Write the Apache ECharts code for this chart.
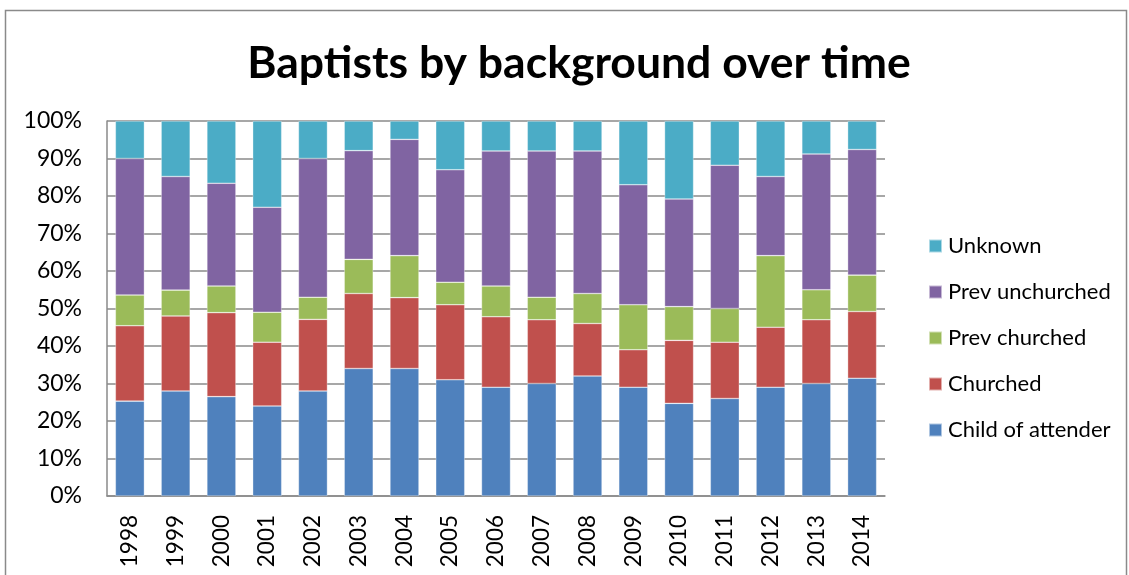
<!DOCTYPE html>
<html>
<head>
<meta charset="utf-8">
<script src="https://cdn.jsdelivr.net/npm/echarts@6/dist/echarts.min.js"></script>
<style>
html,body{margin:0;padding:0;background:#fff;}
#chart{width:1129px;height:575px;}
</style>
</head>
<body>
<div id="chart"></div>
<script>
const years = ['1998','1999','2000','2001','2002','2003','2004','2005','2006','2007','2008','2009','2010','2011','2012','2013','2014'];
const childOfAttender = [25.3, 28.0, 26.5, 24.0, 28.0, 34.0, 34.0, 31.0, 29.0, 30.0, 32.0, 29.0, 24.7, 26.0, 29.0, 30.0, 31.4];
const churched        = [20.1, 20.0, 22.4, 17.0, 19.1, 20.0, 18.9, 20.0, 18.8, 17.0, 14.0, 10.0, 16.8, 15.0, 16.0, 17.0, 17.8];
const prevChurched    = [8.2, 6.9, 7.1, 8.0, 5.9, 9.1, 11.2, 6.0, 8.2, 6.0, 8.0, 12.0, 9.0, 9.0, 19.1, 8.0, 9.7];
const prevUnchurched  = [36.4, 30.3, 27.4, 28.0, 37.0, 29.0, 31.0, 30.0, 36.0, 39.0, 38.0, 32.0, 28.7, 38.2, 21.1, 36.2, 33.5];
const unknown         = [10.0, 14.8, 16.6, 23.0, 10.0, 7.9, 4.9, 13.0, 8.0, 8.0, 8.0, 17.0, 20.8, 11.8, 14.8, 8.8, 7.6];
const yTicks = [0, 10, 20, 30, 40, 50, 60, 70, 80, 90, 100];

const seriesNames = ['Child of attender', 'Churched', 'Prev churched', 'Prev unchurched', 'Unknown'];
const seriesData = [childOfAttender, churched, prevChurched, prevUnchurched, unknown];
const colors = ['#4F81BD', '#C0504D', '#9BBB59', '#8064A2', '#4BACC6'];
const FONT = 'Lato';

const chart = echarts.init(document.getElementById('chart'), null, {renderer: 'canvas'});
chart.setOption({
  animation: false,
  color: colors,
  title: {
    text: 'Baptists by background over time',
    left: 574,
    top: 36,
    textAlign: 'center',
    textStyle: {fontFamily: FONT, fontWeight: 'bold', fontSize: 44.5, color: '#000'}
  },
  graphic: [{
    type: 'rect',
    shape: {x: 5.5, y: 10.5, width: 1121, height: 620},
    style: {fill: 'none', stroke: '#8a8a8a', lineWidth: 1.5},
    silent: true
  }],
  legend: {
    orient: 'vertical',
    left: 928,
    top: 235,
    padding: 0,
    itemWidth: 13,
    itemHeight: 13,
    itemGap: 24,
    icon: 'rect',
    data: seriesNames.slice().reverse(),
    textStyle: {fontFamily: FONT, fontSize: 22, color: '#000', lineHeight: 22, padding: [0, 0, 0, 1]}
  },
  grid: {left: 107, right: 244, top: 121, bottom: 79, containLabel: false},
  xAxis: {
    type: 'category',
    data: years,
    axisLine: {lineStyle: {color: '#8a8a8a', width: 1.5}},
    axisTick: {show: false},
    axisLabel: {interval: 0, rotate: 90, margin: 19, fontFamily: FONT, fontSize: 22.5, color: '#000'}
  },
  yAxis: {
    type: 'value',
    min: yTicks[0],
    max: yTicks[yTicks.length - 1],
    interval: 10,
    axisLine: {show: true, lineStyle: {color: '#8a8a8a', width: 1.5}},
    axisTick: {show: false},
    splitLine: {lineStyle: {color: '#8a8a8a', width: 1.5}},
    axisLabel: {formatter: '{value}%', margin: 25, fontFamily: FONT, fontSize: 23, color: '#000'}
  },
  series: seriesNames.map((name, i) => ({
    name: name,
    type: 'bar',
    stack: 'total',
    barWidth: 29,
    data: seriesData[i],
    itemStyle: {borderColor: 'rgba(255,255,255,0.55)', borderWidth: 0.6}
  }))
});
</script>
</body>
</html>
